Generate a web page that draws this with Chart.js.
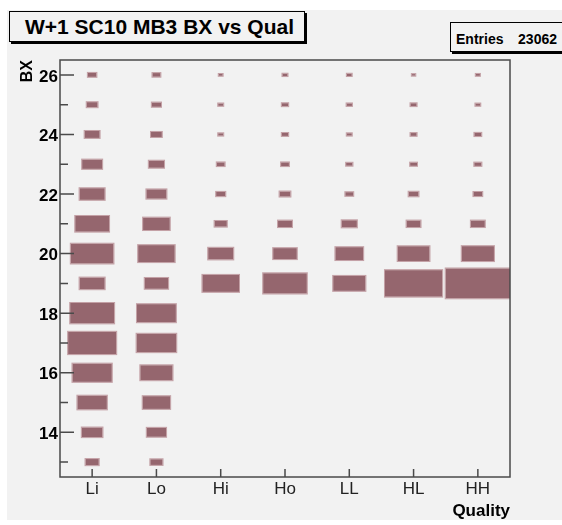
<!DOCTYPE html>
<html>
<head>
<meta charset="utf-8">
<script src="https://cdn.jsdelivr.net/npm/chart.js@4/dist/chart.umd.min.js"></script>
<style>
  html, body { margin:0; padding:0; background:#ffffff; width:562px; height:525px; overflow:hidden; position:relative; }
  #panel { position:absolute; left:7px; top:10px; width:555px; height:510px; background:#f2f2f2; }
  #chart { position:absolute; left:0; top:0; }
  .pave { position:absolute; box-sizing:border-box; border:1px solid #000; box-shadow:2px 2px 0 #000; background:#f2f2f2; }
  .txt { position:absolute; font-family:"Liberation Sans", Arial, Helvetica, sans-serif; font-weight:bold; color:#000; white-space:nowrap; }
</style>
</head>
<body>
<div id="panel"></div>
<div class="pave" style="left:9px; top:11px; width:296px; height:31px;"></div>
<div class="txt" id="title" style="left:25px; top:15px; font-size:21px; line-height:24px;"></div>
<div class="pave" style="left:450px; top:22px; width:130px; height:30px;"></div>
<div class="txt" id="entLabel" style="left:456px; top:31px; font-size:14px; line-height:16px;"></div>
<div class="txt" id="entValue" style="right:5px; top:31px; font-size:14px; line-height:16px;"></div>
<canvas id="chart" width="562" height="525"></canvas>
<script>
// ---- data ----
const chartTitle = 'W+1 SC10 MB3 BX vs Qual';
const entriesLabel = 'Entries';
const entriesValue = '23062';
const qualityLabels = ['Li', 'Lo', 'Hi', 'Ho', 'LL', 'HL', 'HH'];
const bxBins = [13, 14, 15, 16, 17, 18, 19, 20, 21, 22, 23, 24, 25, 26];
const yTickValues = [14, 16, 18, 20, 22, 24, 26];
const yMinorTicks = [13, 15, 17, 19, 21, 23, 25];
// bin contents, one value per BX bin (13 .. 26)
const countsLi = [104, 255, 519, 924, 1382, 1155, 376, 1087, 684, 376, 239, 134, 70, 43];
const countsLo = [89, 222, 450, 620, 940, 906, 327, 800, 427, 239, 138, 70, 50, 37];
const countsHi = [0, 0, 0, 0, 0, 0, 800, 376, 89, 50, 37, 15, 15, 9];
const countsHo = [0, 0, 0, 0, 0, 0, 1141, 334, 116, 70, 37, 24, 24, 15];
const countsLL = [0, 0, 0, 0, 0, 0, 620, 461, 138, 37, 24, 15, 17, 14];
const countsHL = [0, 0, 0, 0, 0, 0, 1957, 605, 116, 58, 28, 22, 22, 7];
const countsHH = [0, 0, 0, 0, 0, 0, 2474, 620, 116, 46, 30, 28, 14, 10];
const countsByQuality = [countsLi, countsLo, countsHi, countsHo, countsLL, countsHL, countsHH];

document.getElementById('title').textContent = chartTitle;
document.getElementById('entLabel').textContent = entriesLabel;
document.getElementById('entValue').textContent = entriesValue;

const points = [];
countsByQuality.forEach((arr, qi) => {
  arr.forEach((c, bi) => { points.push({ x: qi, y: bxBins[bi], c: c }); });
});

const FONT = '"Liberation Sans", Arial, Helvetica, sans-serif';
const BOX_FILL = '#95666e';
const AXIS_COLOR = '#4a4a4a';

const boxPlugin = {
  id: 'boxes',
  afterDatasetsDraw(chart) {
    const ctx = chart.ctx, xs = chart.scales.x, ys = chart.scales.y, a = chart.chartArea;
    const binW = Math.abs(xs.getPixelForValue(1) - xs.getPixelForValue(0));
    const binH = Math.abs(ys.getPixelForValue(1) - ys.getPixelForValue(0));
    const data = chart.data.datasets[0].data;
    const zmax = Math.max(...data.map(d => d.c));
    const meta = chart.getDatasetMeta(0);
    ctx.save();
    ctx.beginPath();
    ctx.rect(a.left, a.top, a.right - a.left, a.bottom - a.top);
    ctx.clip();
    meta.data.forEach((el, i) => {
      const c = data[i].c;
      if (c <= 0) return;
      const f = Math.sqrt(c / zmax);
      const w = binW * f, h = binH * f;
      ctx.fillStyle = BOX_FILL;
      ctx.fillRect(el.x - w / 2, el.y - h / 2, w, h);
      ctx.strokeStyle = 'rgba(175,125,133,0.7)';
      ctx.lineWidth = 1;
      ctx.strokeRect(el.x - w / 2 - 0.5, el.y - h / 2 - 0.5, w + 1, h + 1);
    });
    ctx.restore();
  },
  afterDraw(chart) {
    const ctx = chart.ctx, xs = chart.scales.x, ys = chart.scales.y, a = chart.chartArea;
    ctx.save();
    ctx.strokeStyle = AXIS_COLOR;
    ctx.lineWidth = 1.5;
    ctx.strokeRect(a.left, a.top, a.right - a.left, a.bottom - a.top);
    ctx.lineWidth = 1.5;
    ctx.beginPath();
    yTickValues.forEach(v => { const y = ys.getPixelForValue(v); ctx.moveTo(a.left, y); ctx.lineTo(a.left + 14, y); });
    yMinorTicks.forEach(v => { const y = ys.getPixelForValue(v); ctx.moveTo(a.left, y); ctx.lineTo(a.left + 8, y); });
    qualityLabels.forEach((q, i) => { const x = xs.getPixelForValue(i); ctx.moveTo(x, a.bottom); ctx.lineTo(x, a.bottom - 8); });
    ctx.stroke();
    ctx.restore();
  }
};

new Chart(document.getElementById('chart'), {
  type: 'scatter',
  data: {
    datasets: [{
      data: points,
      pointRadius: 0,
      pointHoverRadius: 0,
      pointHitRadius: 0
    }]
  },
  options: {
    responsive: false,
    devicePixelRatio: 1,
    animation: false,
    events: [],
    layout: { padding: { left: 0, top: 60, right: 52, bottom: 0 } },
    plugins: { legend: { display: false }, tooltip: { enabled: false }, title: { display: false } },
    scales: {
      x: {
        type: 'linear',
        min: -0.5,
        max: 6.5,
        grid: { display: false, drawTicks: false, tickLength: 0 },
        border: { display: false },
        afterFit(s) { s.height = 48; },
        afterBuildTicks(s) { s.ticks = qualityLabels.map((q, i) => ({ value: i })); },
        ticks: {
          padding: 2,
          color: '#222',
          font: { family: FONT, size: 17 },
          callback: (v) => qualityLabels[v]
        },
        title: {
          display: true,
          text: 'Quality',
          align: 'end',
          color: '#000',
          font: { family: FONT, size: 17, weight: 'bold' },
          padding: { top: 0, bottom: 3 }
        }
      },
      y: {
        type: 'linear',
        min: 12.5,
        max: 26.5,
        grid: { display: false, drawTicks: false, tickLength: 0 },
        border: { display: false },
        afterFit(s) { s.width = 60; },
        afterBuildTicks(s) { s.ticks = yTickValues.map(v => ({ value: v })); },
        ticks: {
          padding: 2,
          labelOffset: 2,
          color: '#000',
          font: { family: FONT, size: 17, weight: 'bold' }
        },
        title: {
          display: true,
          text: 'BX',
          align: 'end',
          color: '#000',
          font: { family: FONT, size: 16, weight: 'bold' },
          padding: { top: 18, bottom: 0 }
        }
      }
    }
  },
  plugins: [boxPlugin]
});
</script>
</body>
</html>
